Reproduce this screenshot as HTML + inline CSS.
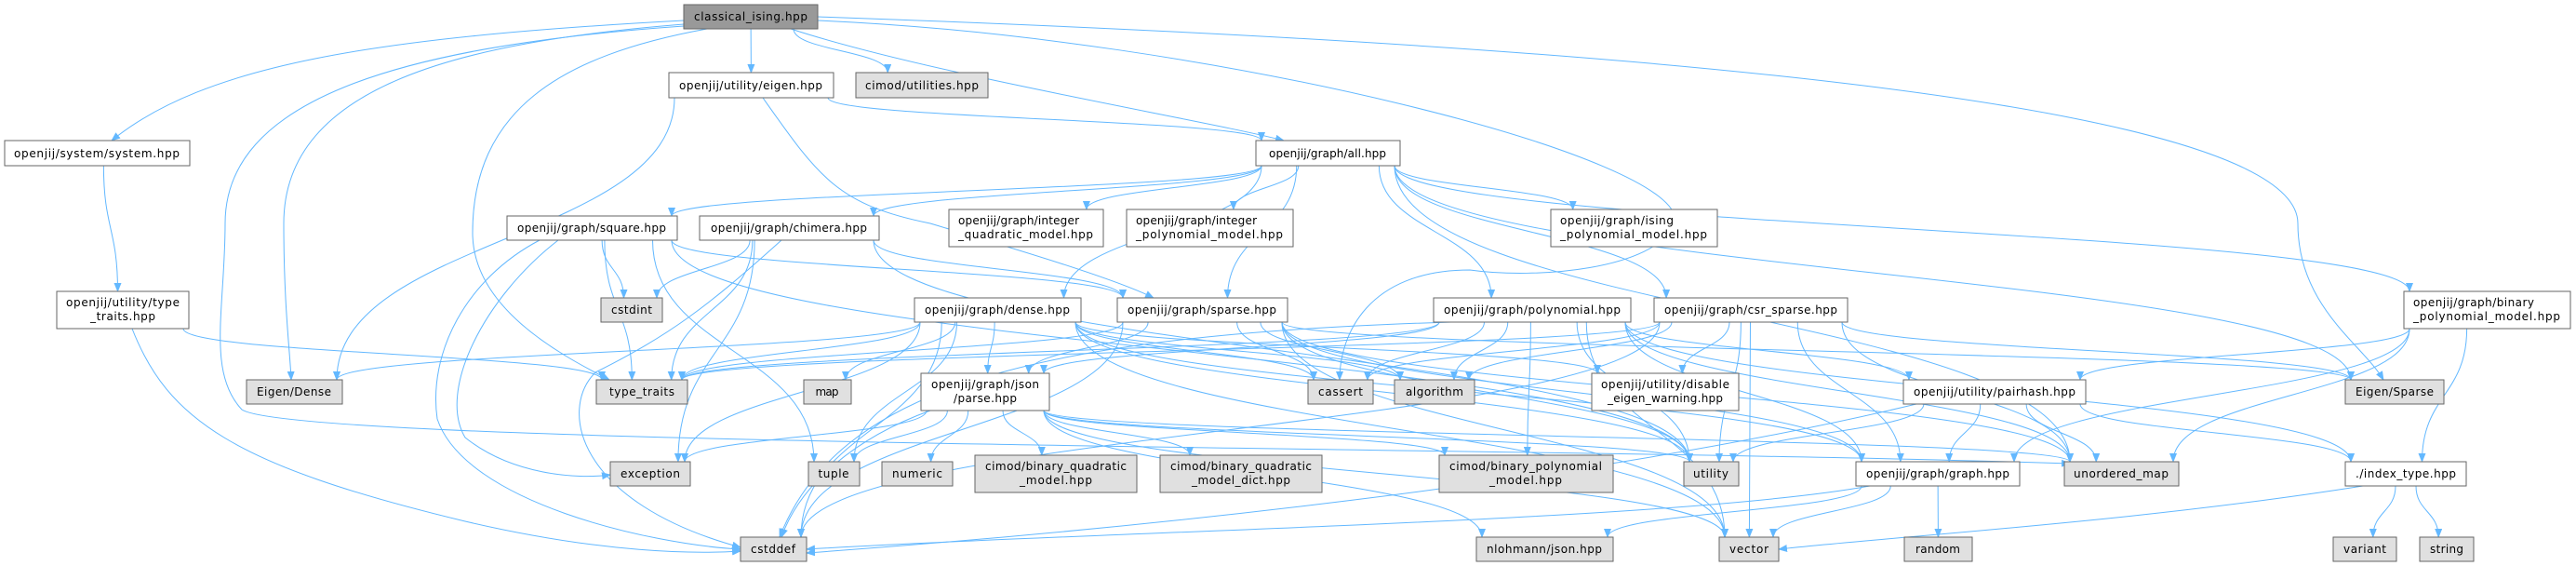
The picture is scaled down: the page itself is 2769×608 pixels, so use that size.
<!DOCTYPE html>
<html><head><meta charset="utf-8"><style>
html,body{margin:0;padding:0;background:#fff;width:2769px;height:608px;overflow:hidden}
svg text{font-family:"DejaVu Sans","Liberation Sans",sans-serif;font-size:12px;fill:#000}
</style></head><body>
<svg id="g" width="2769" height="608" viewBox="0 0 2769 608" xmlns="http://www.w3.org/2000/svg">
<defs><marker id="a" markerWidth="10" markerHeight="8" refX="9" refY="4" orient="auto" markerUnits="userSpaceOnUse"><path d="M0,0 L10,4 L0,8 z" fill="#63b8ff"/></marker></defs>
<g id="edges" fill="none" stroke="#63b8ff" stroke-width="1"></g>
<g id="nodes" stroke="#666" stroke-width="1">
<rect x="735" y="5" width="144" height="26" fill="#999"/><text x="807" y="22" text-anchor="middle" stroke="none" textLength="122">classical_ising.hpp</text>
<rect x="719" y="78" width="177" height="27" fill="#fff"/><text x="807" y="96" text-anchor="middle" stroke="none" textLength="154">openjij/utility/eigen.hpp</text>
<rect x="920" y="78" width="142" height="27" fill="#e0e0e0"/><text x="991" y="96" text-anchor="middle" stroke="none" textLength="122">cimod/utilities.hpp</text>
<rect x="5" y="151" width="199" height="27" fill="#fff"/><text x="104" y="169" text-anchor="middle" stroke="none" textLength="178">openjij/system/system.hpp</text>
<rect x="1350" y="151" width="155" height="27" fill="#fff"/><text x="1427" y="169" text-anchor="middle" stroke="none" textLength="126">openjij/graph/all.hpp</text>
<rect x="545" y="232" width="183" height="26" fill="#fff"/><text x="636" y="249" text-anchor="middle" stroke="none" textLength="160">openjij/graph/square.hpp</text>
<rect x="752" y="232" width="193" height="26" fill="#fff"/><text x="848" y="249" text-anchor="middle" stroke="none" textLength="168">openjij/graph/chimera.hpp</text>
<rect x="1020" y="225" width="166" height="40" fill="#fff"/><text x="1030" y="241" stroke="none" textLength="130">openjij/graph/integer</text><text x="1030" y="256" stroke="none" textLength="145">_quadratic_model.hpp</text>
<rect x="1211" y="225" width="179" height="40" fill="#fff"/><text x="1221" y="241" stroke="none" textLength="130">openjij/graph/integer</text><text x="1221" y="256" stroke="none" textLength="158">_polynomial_model.hpp</text>
<rect x="1667" y="225" width="179" height="40" fill="#fff"/><text x="1677" y="241" stroke="none" textLength="122">openjij/graph/ising</text><text x="1677" y="256" stroke="none" textLength="158">_polynomial_model.hpp</text>
<rect x="61" y="313" width="142" height="40" fill="#fff"/><text x="132" y="329" text-anchor="middle" stroke="none" textLength="122">openjij/utility/type</text><text x="132" y="344" text-anchor="middle" stroke="none" textLength="70">_traits.hpp</text>
<rect x="646" y="320" width="66" height="26" fill="#e0e0e0"/><text x="679" y="337" text-anchor="middle" stroke="none" textLength="44">cstdint</text>
<rect x="983" y="320" width="179" height="26" fill="#fff"/><text x="1072" y="337" text-anchor="middle" stroke="none" textLength="156">openjij/graph/dense.hpp</text>
<rect x="1201" y="320" width="183" height="26" fill="#fff"/><text x="1292" y="337" text-anchor="middle" stroke="none" textLength="160">openjij/graph/sparse.hpp</text>
<rect x="1541" y="320" width="212" height="26" fill="#fff"/><text x="1647" y="337" text-anchor="middle" stroke="none" textLength="190">openjij/graph/polynomial.hpp</text>
<rect x="1778" y="320" width="208" height="26" fill="#fff"/><text x="1882" y="337" text-anchor="middle" stroke="none" textLength="186">openjij/graph/csr_sparse.hpp</text>
<rect x="2584" y="313" width="179" height="40" fill="#fff"/><text x="2594" y="329" stroke="none" textLength="130">openjij/graph/binary</text><text x="2594" y="344" stroke="none" textLength="158">_polynomial_model.hpp</text>
<rect x="265" y="408" width="103" height="26" fill="#e0e0e0"/><text x="316" y="425" text-anchor="middle" stroke="none" textLength="80">Eigen/Dense</text>
<rect x="641" y="408" width="98" height="26" fill="#e0e0e0"/><text x="690" y="425" text-anchor="middle" stroke="none" textLength="70">type_traits</text>
<rect x="864" y="408" width="51" height="26" fill="#e0e0e0"/><text x="889" y="425" text-anchor="middle" stroke="none" textLength="25">map</text>
<rect x="990" y="401" width="138" height="40" fill="#fff"/><text x="1059" y="417" text-anchor="middle" stroke="none" textLength="116">openjij/graph/json</text><text x="1059" y="432" text-anchor="middle" stroke="none" textLength="68">/parse.hpp</text>
<rect x="1406" y="408" width="70" height="26" fill="#e0e0e0"/><text x="1441" y="425" text-anchor="middle" stroke="none" textLength="48">cassert</text>
<rect x="1499" y="408" width="86" height="26" fill="#e0e0e0"/><text x="1542" y="425" text-anchor="middle" stroke="none" textLength="62">algorithm</text>
<rect x="1711" y="401" width="158" height="40" fill="#fff"/><text x="1790" y="417" text-anchor="middle" stroke="none" textLength="138">openjij/utility/disable</text><text x="1790" y="432" text-anchor="middle" stroke="none" textLength="124">_eigen_warning.hpp</text>
<rect x="2046" y="408" width="196" height="26" fill="#fff"/><text x="2144" y="425" text-anchor="middle" stroke="none" textLength="174">openjij/utility/pairhash.hpp</text>
<rect x="2521" y="408" width="106" height="26" fill="#e0e0e0"/><text x="2574" y="425" text-anchor="middle" stroke="none" textLength="84">Eigen/Sparse</text>
<rect x="656" y="496" width="86" height="26" fill="#e0e0e0"/><text x="699" y="513" text-anchor="middle" stroke="none" textLength="64">exception</text>
<rect x="869" y="496" width="55" height="26" fill="#e0e0e0"/><text x="896" y="513" text-anchor="middle" stroke="none" textLength="33">tuple</text>
<rect x="948" y="496" width="76" height="26" fill="#e0e0e0"/><text x="986" y="513" text-anchor="middle" stroke="none" textLength="54">numeric</text>
<rect x="1048" y="489" width="174" height="40" fill="#e0e0e0"/><text x="1135" y="505" text-anchor="middle" stroke="none" textLength="152">cimod/binary_quadratic</text><text x="1135" y="520" text-anchor="middle" stroke="none" textLength="78">_model.hpp</text>
<rect x="1247" y="489" width="174" height="40" fill="#e0e0e0"/><text x="1334" y="505" text-anchor="middle" stroke="none" textLength="152">cimod/binary_quadratic</text><text x="1334" y="520" text-anchor="middle" stroke="none" textLength="106">_model_dict.hpp</text>
<rect x="1547" y="489" width="187" height="40" fill="#e0e0e0"/><text x="1640" y="505" text-anchor="middle" stroke="none" textLength="164">cimod/binary_polynomial</text><text x="1640" y="520" text-anchor="middle" stroke="none" textLength="78">_model.hpp</text>
<rect x="1810" y="496" width="59" height="26" fill="#e0e0e0"/><text x="1839" y="513" text-anchor="middle" stroke="none" textLength="38">utility</text>
<rect x="1995" y="496" width="176" height="26" fill="#fff"/><text x="2083" y="513" text-anchor="middle" stroke="none" textLength="154">openjij/graph/graph.hpp</text>
<rect x="2219" y="496" width="123" height="26" fill="#e0e0e0"/><text x="2280" y="513" text-anchor="middle" stroke="none" textLength="102">unordered_map</text>
<rect x="2521" y="496" width="130" height="26" fill="#fff"/><text x="2586" y="513" text-anchor="middle" stroke="none" textLength="108">./index_type.hpp</text>
<rect x="796" y="577" width="71" height="26" fill="#e0e0e0"/><text x="831" y="594" text-anchor="middle" stroke="none" textLength="48">cstddef</text>
<rect x="1587" y="577" width="147" height="26" fill="#e0e0e0"/><text x="1660" y="594" text-anchor="middle" stroke="none" textLength="124">nlohmann/json.hpp</text>
<rect x="1848" y="577" width="64" height="26" fill="#e0e0e0"/><text x="1880" y="594" text-anchor="middle" stroke="none" textLength="42">vector</text>
<rect x="2047" y="577" width="73" height="26" fill="#e0e0e0"/><text x="2083" y="594" text-anchor="middle" stroke="none" textLength="48">random</text>
<rect x="2508" y="577" width="68" height="26" fill="#e0e0e0"/><text x="2542" y="594" text-anchor="middle" stroke="none" textLength="46">variant</text>
<rect x="2601" y="577" width="58" height="26" fill="#e0e0e0"/><text x="2630" y="594" text-anchor="middle" stroke="none" textLength="36">string</text>
</g>
</svg>
<script>
var N={ci:[735,5,879,31],eg:[719,78,896,105],cu:[920,78,1062,105],sy:[5,151,204,178],al:[1350,151,1505,178],
sq:[545,232,728,258],ch:[752,232,945,258],iq:[1020,225,1186,265],ip:[1211,225,1390,265],is:[1667,225,1846,265],
tt:[61,313,203,353],cd:[646,320,712,346],de:[983,320,1162,346],sp:[1201,320,1384,346],po:[1541,320,1753,346],cs:[1778,320,1986,346],bp:[2584,313,2763,353],
ed:[265,408,368,434],ty:[641,408,739,434],ma:[864,408,915,434],js:[990,401,1128,441],ca:[1406,408,1476,434],ag:[1499,408,1585,434],di:[1711,401,1869,441],ph:[2046,408,2242,434],es:[2521,408,2627,434],
ex:[656,496,742,522],tu:[869,496,924,522],nu:[948,496,1024,522],bq:[1048,489,1222,529],bd:[1247,489,1421,529],bm:[1547,489,1734,529],ut:[1810,496,1869,522],gr:[1995,496,2171,522],um:[2219,496,2342,522],ix:[2521,496,2651,522],
cdd:[796,577,867,603],nl:[1587,577,1734,603],ve:[1848,577,1912,603],ra:[2047,577,2120,603],va:[2508,577,2576,603],st:[2601,577,2659,603]};
var O={
'ci-sy':'M735,22 C400,40 220,70 120,151',
'ci-ed':'M735,26 C500,45 305,90 305,240 C305,330 312,380 313,408',
'ci-ty':'M760,31 C600,60 508,120 508,250 C508,330 600,380 655,408',
'ci-um':'M735,28 C420,50 242,110 242,240 C242,330 222,400 260,440 C320,480 1700,480 2225,498',
'ci-es':'M879,18 C1500,40 2470,90 2470,240 C2470,330 2540,370 2562,408',
'ci-ca':'M879,22 C1300,40 1820,170 1800,240 C1780,290 1650,300 1580,290 C1470,290 1440,360 1440,408',
'ci-al':'M850,31 C1000,80 1300,130 1380,151',
'eg-sp':'M820,105 C880,190 900,220 1000,240 C1100,270 1200,300 1240,320',
'tt-cdd':'M142,353 C180,450 250,500 500,560 C650,595 750,595 796,592',
'sq-cdd':'M580,258 C500,300 460,380 470,450 C500,540 700,585 796,590',
'sq-ex':'M600,258 C520,320 470,420 500,470 C550,510 620,515 656,510',
'ch-cdd':'M840,258 C760,330 720,360 640,400 C600,440 620,540 796,588',
'gr-cdd':'M2010,522 C1800,560 1200,570 867,590',
'js-cdd':'M1000,441 C920,470 860,520 840,577',
'ph-cdd':'M2060,434 C1700,520 1200,570 867,594',
'po-cdd':'M1560,346 C1100,360 900,420 838,577',
'ix-ve':'M2540,522 C2300,560 2050,575 1912,590'};
var E={ci:'sy eg cu al ed es ty ca um',sy:'tt',tt:'ty cdd',eg:'ed al sp',
al:'sq ch iq ip is bp de sp po cs es um',sq:'cd ty cdd ex sp ut tu',ch:'cd ty cdd ex sp ut',
de:'ed ty ma js ca ag di ex cdd ut gr ve tu',sp:'ty js ca ag gr ut ve es cdd um',
po:'ty js ca ag bm ut gr ph ve cdd um ix',cs:'ty ca ag di es gr ut ve um cdd',bp:'ph um ix gr',
js:'ex tu nu bq bd bm nl ut um ve cdd',ph:'ut gr um ix cdd',gr:'cdd nl ve ra',ix:'va st ve'};
var g=document.getElementById('edges'),s='';
for(var k in E){var a=N[k];E[k].split(' ').forEach(function(t){var b=N[t],d=O[k+'-'+t];
if(!d){var acx=(a[0]+a[2])/2,bcx=(b[0]+b[2])/2,sx,sy,tx,ty;
sx=Math.max(a[0]+6,Math.min(a[2]-6,acx+(bcx-acx)*0.25));sy=a[3];
if(b[1]-a[3]>20){tx=Math.max(b[0]+6,Math.min(b[2]-6,bcx+(acx-bcx)*0.2));ty=b[1];var dy=(ty-sy)/2;
d='M'+sx+','+sy+' C'+sx+','+(sy+dy)+' '+tx+','+(ty-dy)+' '+tx+','+ty;}
else{ty=(b[1]+b[3])/2;tx=bcx<acx?b[2]:b[0];d='M'+sx+','+sy+' C'+sx+','+(sy+30)+' '+(tx+(bcx<acx?40:-40))+','+ty+' '+tx+','+ty;}}
s+='<path d="'+d+'" marker-end="url(#a)"/>';});}
g.innerHTML=s;
</script>
</body></html>
